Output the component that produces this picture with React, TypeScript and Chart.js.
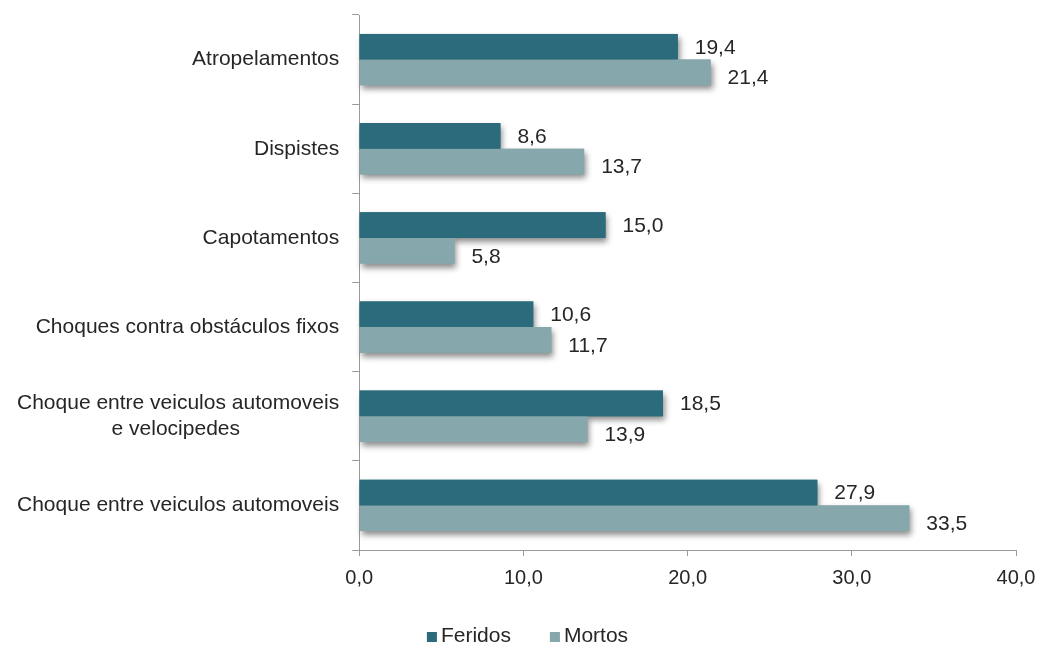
import React, { useEffect, useRef } from "react";
import { Chart, registerables } from "chart.js";

Chart.register(...registerables);

const categories: (string | string[])[] = [
  "Atropelamentos",
  "Dispistes",
  "Capotamentos",
  "Choques contra obstáculos fixos",
  ["Choque entre veiculos automoveis", "e velocipedes" + "\u00a0".repeat(17)],
  "Choque entre veiculos automoveis",
];
const feridos = [19.4, 8.6, 15.0, 10.6, 18.5, 27.9];
const mortos = [21.4, 13.7, 5.8, 11.7, 13.9, 33.5];
const seriesNames = ["Feridos", "Mortos"];
const seriesColors = ["#2b6b7b", "#86a7ab"];
const xMin = 0;
const xMax = 40;
const xStep = 10;

const FONT = "'Liberation Sans', Arial, sans-serif";
const TEXT = "#262626";
const AXIS = "#9a9a9a";

const fmt = (v: number) => v.toFixed(1).replace(".", ",");

const shadowPlugin = {
  id: "barShadow",
  beforeDatasetsDraw(chart: any) {
    const ctx = chart.ctx;
    ctx.save();
    ctx.shadowColor = "rgba(0,0,0,0.45)";
    ctx.shadowBlur = 6;
    ctx.shadowOffsetX = 2;
    ctx.shadowOffsetY = 4;
    chart.data.datasets.forEach((ds: any, di: number) => {
      const meta = chart.getDatasetMeta(di);
      ctx.fillStyle = ds.backgroundColor;
      meta.data.forEach((el: any) => {
        const p = el.getProps(["x", "y", "base", "height"], true);
        const left = Math.min(p.base, p.x);
        const w = Math.abs(p.x - p.base);
        ctx.fillRect(left, p.y - p.height / 2, w, p.height);
      });
    });
    ctx.restore();
  },
};

const labelPlugin = {
  id: "valueLabels",
  afterDatasetsDraw(chart: any) {
    const ctx = chart.ctx;
    ctx.save();
    ctx.font = `21px ${FONT}`;
    ctx.fillStyle = TEXT;
    ctx.textAlign = "left";
    ctx.textBaseline = "middle";
    chart.data.datasets.forEach((ds: any, di: number) => {
      const meta = chart.getDatasetMeta(di);
      const dy = di === 0 ? 1 : 6;
      meta.data.forEach((el: any, i: number) => {
        const p = el.getProps(["x", "y"], true);
        ctx.fillText(fmt(ds.data[i]), p.x + 17, p.y + dy);
      });
    });
    ctx.restore();
  },
};

const legendPlugin = {
  id: "customLegend",
  afterDraw(chart: any) {
    const ctx = chart.ctx;
    ctx.save();
    ctx.font = `21px ${FONT}`;
    ctx.textBaseline = "middle";
    ctx.textAlign = "left";
    const box = 10;
    const gapText = 4;
    const gapItem = 39;
    const widths = seriesNames.map((n) => ctx.measureText(n).width);
    const total =
      widths.reduce((a, b) => a + b, 0) + seriesNames.length * (box + gapText) + gapItem * (seriesNames.length - 1);
    let x = 527.5 - total / 2;
    const cy = 636;
    seriesNames.forEach((n, i) => {
      ctx.fillStyle = seriesColors[i];
      ctx.fillRect(x, cy - box / 2 + 1, box, box);
      x += box + gapText;
      ctx.fillStyle = TEXT;
      ctx.fillText(n, x, cy);
      x += widths[i] + gapItem;
    });
    ctx.restore();
  },
};

export default function App() {
  const ref = useRef<HTMLCanvasElement | null>(null);
  useEffect(() => {
    if (!ref.current) return;
    const chart = new Chart(ref.current, {
      type: "bar",
      data: {
        labels: categories,
        datasets: [
          {
            label: seriesNames[0],
            data: feridos,
            backgroundColor: seriesColors[0],
            borderWidth: 0,
            categoryPercentage: 0.575,
            barPercentage: 1,
          },
          {
            label: seriesNames[1],
            data: mortos,
            backgroundColor: seriesColors[1],
            borderWidth: 0,
            categoryPercentage: 0.575,
            barPercentage: 1,
          },
        ],
      },
      options: {
        indexAxis: "y",
        animation: false,
        responsive: true,
        maintainAspectRatio: false,
        layout: { padding: { left: 4, right: 25, top: 15, bottom: 45 } },
        plugins: {
          legend: { display: false },
          tooltip: { enabled: false },
        },
        scales: {
          x: {
            min: xMin,
            max: xMax,
            afterFit: (s: any) => {
              s.paddingLeft = 0;
              s.paddingRight = 0;
            },
            ticks: {
              stepSize: xStep,
              callback: (v: any) => fmt(Number(v)),
              font: { family: FONT, size: 20 },
              color: TEXT,
              padding: 10,
            },
            grid: {
              display: true,
              drawOnChartArea: false,
              drawTicks: true,
              tickLength: 6,
              color: AXIS,
            },
            border: { display: true, color: AXIS, width: 1 },
          },
          y: {
            afterFit: (s: any) => {
              s.paddingTop = 0;
              s.paddingBottom = 0;
            },
            ticks: {
              font: { family: FONT, size: 21 },
              color: TEXT,
              padding: 13,
            },
            grid: {
              display: true,
              drawOnChartArea: false,
              drawTicks: true,
              tickLength: 7,
              color: AXIS,
              offset: true,
            },
            border: { display: true, color: AXIS, width: 1 },
          },
        },
      },
      plugins: [shadowPlugin, labelPlugin, legendPlugin],
    });
    return () => chart.destroy();
  }, []);
  return (
    <div style={{ position: "fixed", left: 0, top: 0, width: 1041, height: 645, background: "#fff" }}>
      <canvas ref={ref} />
    </div>
  );
}
